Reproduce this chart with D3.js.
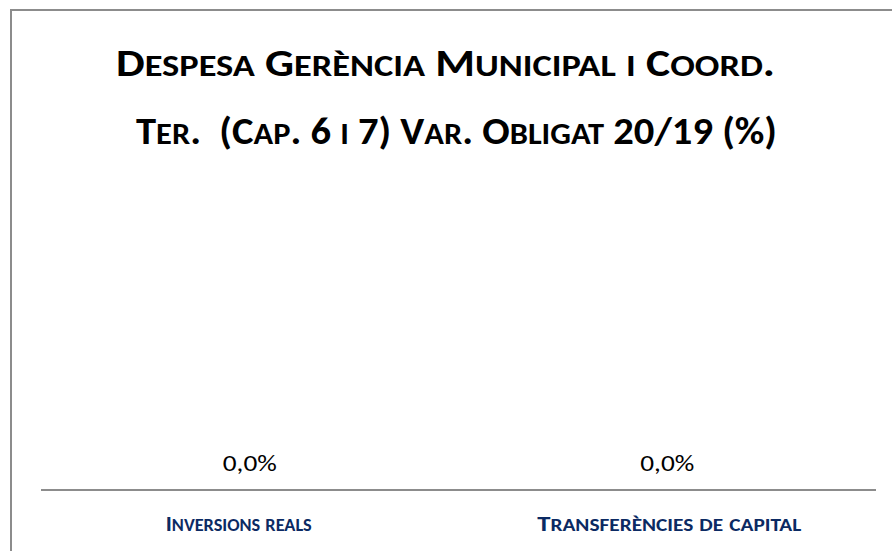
<!DOCTYPE html>
<html><head><meta charset="utf-8">
<script src="https://cdn.jsdelivr.net/npm/d3@7"></script>
<style>
html,body{margin:0;padding:0;background:#fff;}
svg{display:block;}
text{font-family:Carlito,Calibri,Lato,"Open Sans",sans-serif;white-space:pre;}
</style></head>
<body>
<svg id="chart" width="892" height="551"></svg>
<script>
const titleLines = ["Despesa Gerència Municipal i Coord.", "Ter.  (Cap. 6 i 7) Var. Obligat 20/19 (%)"];
const categories = ["Inversions reals", "Transferències de capital"];
const values = [0.0, 0.0];

const svg = d3.select("#chart");

// draw text in small caps manually: lowercase letters -> uppercase at reduced size
function smallCaps(sel, str, size, ratio) {
  const runs = [];
  for (const ch of str) {
    const low = ch !== ch.toUpperCase();
    const last = runs[runs.length - 1];
    if (last && last.low === low) last.t += ch; else runs.push({low, t: ch});
  }
  runs.forEach(r => {
    sel.append("tspan")
      .attr("font-size", r.low ? size * ratio : size)
      .text(r.low ? r.t.toUpperCase() : r.t);
  });
}

// chart area border (extends beyond the visible window on right/bottom)
svg.append("rect").attr("x", 11).attr("y", 10).attr("width", 910).attr("height", 600)
  .attr("fill", "#fff").attr("stroke", "#8c8c8c").attr("stroke-width", 2);

// title
const titleX = [445.5, 456.5], titleY = [76, 144], titleW = [659, 641];
titleLines.forEach((t, i) => {
  const te = svg.append("text").attr("x", titleX[i]).attr("y", titleY[i])
    .attr("text-anchor", "middle").attr("font-weight", "bold").attr("fill", "#000")
    .attr("textLength", titleW[i]).attr("lengthAdjust", "spacingAndGlyphs");
  smallCaps(te, t, 39, 0.8);
});

const x = d3.scaleBand().domain(categories).range([41, 876]).paddingInner(0.4).paddingOuter(0.2);
const y = d3.scaleLinear().domain([0, 1]).range([490, 160]);

// bars (zero height)
svg.append("g").selectAll("rect").data(values).join("rect")
  .attr("x", (d, i) => x(categories[i]))
  .attr("width", x.bandwidth())
  .attr("y", d => Math.min(y(d), y(0)))
  .attr("height", d => Math.abs(y(d) - y(0)))
  .attr("fill", "#4472c4");

// axis line
const xAxis = d3.axisBottom(x).tickSize(0).tickPadding(0).tickFormat("");
const gx = svg.append("g").attr("transform", `translate(0,${y(0)})`).call(xAxis);
gx.select(".domain").attr("stroke", "#8c8c8c").attr("stroke-width", 2)
  .attr("d", "M41,0H876");
const labelW = [146, 264], labelDx = [-11, 2];
gx.selectAll(".tick").each(function(d, i) {
  const te = d3.select(this).append("text")
    .attr("x", labelDx[i]).attr("y", 41).attr("text-anchor", "middle")
    .attr("font-weight", "bold").attr("fill", "#0b2a63")
    .attr("textLength", labelW[i]).attr("lengthAdjust", "spacingAndGlyphs");
  smallCaps(te, d, 23, 0.8);
});

// data labels
const fmt = v => d3.format(".1f")(v).replace(".", ",") + "%";
svg.append("g").selectAll("text").data(values).join("text")
  .attr("x", (d, i) => x(categories[i]) + x.bandwidth() / 2)
  .attr("y", 471)
  .attr("text-anchor", "middle").attr("font-size", 23).attr("fill", "#000")
  .attr("textLength", 54).attr("lengthAdjust", "spacingAndGlyphs")
  .text(d => fmt(d));
</script>
</body></html>
